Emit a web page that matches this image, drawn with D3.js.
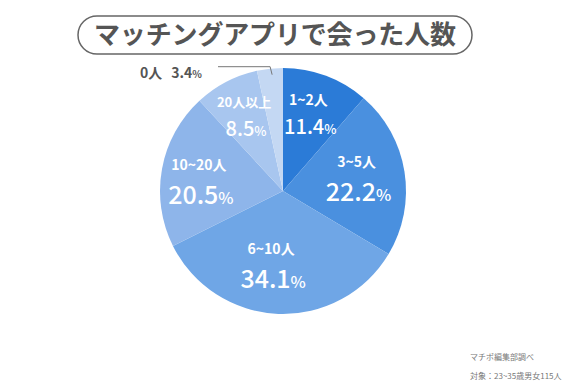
<!DOCTYPE html>
<html>
<head>
<meta charset="utf-8">
<script src="https://cdn.jsdelivr.net/npm/d3@7"></script>
<style>
  body { margin: 0; background: #fff; }
  text { font-family: "Noto Sans CJK JP", "Noto Sans", sans-serif; }
</style>
</head>
<body>
<script>
var categories = ['1~2人', '3~5人', '6~10人', '10~20人', '20人以上', '0人'];
var values = [11.4, 22.2, 34.1, 20.5, 8.5, 3.4];
var colors = ['#2b7bd7', '#4a90df', '#6fa6e6', '#8eb5ea', '#a8c6ef', '#c4d8f3'];

var width = 570, height = 389;
var cx = 283, cy = 191, radius = 123;

var svg = d3.select('body').append('svg')
    .attr('width', width)
    .attr('height', height);

// title box
svg.append('rect')
    .attr('x', 78).attr('y', 16)
    .attr('width', 394).attr('height', 38)
    .attr('rx', 19)
    .attr('fill', '#fff')
    .attr('stroke', '#666')
    .attr('stroke-width', 1.5);

svg.append('text')
    .attr('x', 275).attr('y', 44)
    .attr('text-anchor', 'middle')
    .attr('font-size', 26)
    .attr('font-weight', 'bold')
    .attr('fill', '#555')
    .attr('textLength', 362)
    .text('マッチングアプリで会った人数');

var pie = d3.pie().sort(null).value(function(d) { return d; });
var arc = d3.arc().innerRadius(0).outerRadius(radius);
var arcs = pie(values);

var g = svg.append('g').attr('transform', 'translate(' + cx + ',' + cy + ')');

g.selectAll('path')
    .data(arcs)
  .enter().append('path')
    .attr('d', arc)
    .attr('fill', function(d, i) { return colors[i]; });

// label placement: radius fraction, nudges and size per slice
var labelR = [0.68, 0.68, 0.62, 0.72, 0.72];
var nudgeX = [-4, -9, -9, 3, 2];
var nudgeY = [0, -3, -5, 3, 3];
var nameSize = [14, 14, 14, 14, 13];
var valSize = [20, 25, 25, 25, 20];

arcs.slice(0, 5).forEach(function(d, i) {
  var a = (d.startAngle + d.endAngle) / 2;
  var r = radius * labelR[i];
  var x = cx + Math.sin(a) * r + nudgeX[i];
  var y = cy - Math.cos(a) * r + nudgeY[i];
  svg.append('text')
      .attr('x', x).attr('y', y - 8)
      .attr('text-anchor', 'middle')
      .attr('font-size', nameSize[i])
      .attr('font-weight', 'bold')
      .attr('fill', '#fff')
      .text(categories[i]);
  var t = svg.append('text')
      .attr('x', x + 2).attr('y', y + valSize[i] + 1)
      .attr('text-anchor', 'middle')
      .attr('font-size', valSize[i])
      .attr('font-weight', 500)
      .attr('fill', '#fff');
  t.append('tspan').text(values[i].toFixed(1));
  t.append('tspan').attr('font-size', valSize[i] * 0.65).text('%');
});

// outside label for the smallest slice
var last = arcs[5];
var la = (last.startAngle + last.endAngle) / 2;
var px = cx + Math.sin(la) * (radius - 2);
var py = cy - Math.cos(la) * (radius - 2);
svg.append('path')
    .attr('d', 'M' + (px + 2) + ',' + (py + 4) + 'L' + px + ',' + (py - 4) + 'L' + 218 + ',' + (py - 4))
    .attr('fill', 'none')
    .attr('stroke', '#777')
    .attr('stroke-width', 1);

var t0 = svg.append('text')
    .attr('x', 140).attr('y', 78)
    .attr('font-size', 14)
    .attr('font-weight', 'bold')
    .attr('fill', '#555');
t0.append('tspan').text(categories[5]);
t0.append('tspan').attr('dx', 9).text(values[5].toFixed(1));
t0.append('tspan').attr('font-size', 10).text('%');

// source
svg.append('text')
    .attr('x', 470).attr('y', 360)
    .attr('font-size', 8)
    .attr('fill', '#777')
    .text('マチポ編集部調べ');
svg.append('text')
    .attr('x', 470).attr('y', 379)
    .attr('font-size', 8)
    .attr('fill', '#777')
    .text('対象：23~35歳男女115人');
</script>
</body>
</html>
